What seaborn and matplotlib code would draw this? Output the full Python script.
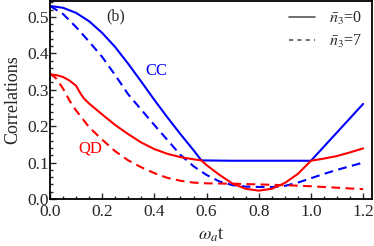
"""Correlations vs omega_a t, panel (b)"""

import matplotlib
matplotlib.use("Agg")
import matplotlib.pyplot as plt
from matplotlib.lines import Line2D
from matplotlib.ticker import MultipleLocator
import seaborn as sns
import pandas as pd

# classical correlation, n3 = 0 (solid) and n3 = 7 (dashed)
t_cc0 = [0, 0.05, 0.1, 0.15, 0.2, 0.25, 0.3, 0.35, 0.4, 0.45, 0.5, 0.55, 0.58,
         0.7, 0.85, 1.0, 1.05, 1.1, 1.15, 1.2]
cc0 = [0.530, 0.525, 0.511, 0.488, 0.456, 0.417, 0.371, 0.322, 0.272, 0.224,
       0.178, 0.134, 0.106, 0.105, 0.105, 0.105, 0.144, 0.183, 0.222, 0.261]

t_cc7 = [0, 0.05, 0.1, 0.15, 0.2, 0.25, 0.3, 0.35, 0.4, 0.45, 0.5, 0.55, 0.6,
         0.65, 0.7, 0.75, 0.8, 0.85, 0.9, 0.95, 1.0, 1.05, 1.1, 1.15, 1.2]
cc7 = [0.530, 0.508, 0.472, 0.432, 0.390, 0.340, 0.287, 0.245, 0.203, 0.162,
       0.121, 0.090, 0.066, 0.048, 0.038, 0.034, 0.033, 0.033, 0.036, 0.045,
       0.057, 0.069, 0.080, 0.090, 0.100]

# quantum discord, n3 = 0 (solid) and n3 = 7 (dashed)
t_qd0 = [0, 0.025, 0.05, 0.075, 0.1, 0.115, 0.13, 0.15, 0.2, 0.25, 0.3, 0.35,
         0.4, 0.45, 0.5, 0.55, 0.58, 0.6, 0.65, 0.7, 0.75, 0.8, 0.85, 0.9,
         0.95, 1.0, 1.05, 1.1, 1.15, 1.2]
qd0 = [0.342, 0.340, 0.335, 0.325, 0.311, 0.292, 0.276, 0.262, 0.232, 0.203,
       0.178, 0.155, 0.137, 0.124, 0.115, 0.109, 0.106, 0.093, 0.066, 0.042,
       0.028, 0.023, 0.028, 0.044, 0.069, 0.105, 0.111, 0.118, 0.128, 0.139]

t_qd7 = [0, 0.025, 0.05, 0.075, 0.1, 0.15, 0.2, 0.25, 0.3, 0.35, 0.4, 0.45,
         0.5, 0.55, 0.6, 0.7, 0.8, 0.9, 1.0, 1.1, 1.2]
qd7 = [0.345, 0.330, 0.303, 0.270, 0.243, 0.197, 0.163, 0.131, 0.106, 0.087,
       0.071, 0.058, 0.050, 0.045, 0.043, 0.042, 0.040, 0.038, 0.035, 0.031,
       0.027]

x_ticks = [0.0, 0.2, 0.4, 0.6, 0.8, 1.0, 1.2]
y_ticks = [0.0, 0.1, 0.2, 0.3, 0.4, 0.5]

BLUE = "#0000ff"
RED = "#ff0000"

sns.set_style("ticks")
plt.rcParams["font.family"] = ["Liberation Serif", "DejaVu Serif"]
plt.rcParams["mathtext.fontset"] = "stix"

fig = plt.figure(figsize=(3.74, 2.46), dpi=100)
ax = fig.add_axes([50 / 374, 47 / 246, 322 / 374, 198.5 / 246])

curves = [
    (t_cc0, cc0, BLUE, False),
    (t_cc7, cc7, BLUE, True),
    (t_qd0, qd0, RED, False),
    (t_qd7, qd7, RED, True),
]
for t, v, color, dashed in curves:
    df = pd.DataFrame({"t": t, "v": v})
    sns.lineplot(data=df, x="t", y="v", color=color, linewidth=1.5, ax=ax,
                 legend=False)
    if dashed:
        ax.lines[-1].set_dashes((4.2, 2.6))

ax.set_xlim(0, 1.234)
ax.set_ylim(0, 0.545)
ax.set_xticks(x_ticks)
ax.set_yticks(y_ticks)
ax.set_xticklabels([f"{x:.1f}" for x in x_ticks])
ax.set_yticklabels([f"{y:.1f}" for y in y_ticks])
ax.xaxis.set_minor_locator(MultipleLocator(0.05))
ax.yaxis.set_minor_locator(MultipleLocator(0.02))
ax.tick_params(which="both", direction="in", labelsize=12.5, width=1.0,
               top=False, right=False)
ax.tick_params(which="major", length=4)
ax.tick_params(which="minor", length=2.3)
ax.tick_params(axis="x", pad=3.5)
ax.tick_params(axis="y", pad=1)
for s in ax.spines.values():
    s.set_visible(True)
    s.set_linewidth(1.3)
    s.set_color("black")

ax.set_xlabel(r"$\omega_a$t", fontsize=13, labelpad=5)
ax.set_ylabel("Correlations", fontsize=13, labelpad=4)

ax.text(0.253, 0.50, "(b)", fontsize=11.5, ha="center", va="center")
ax.text(0.406, 0.352, "CC", fontsize=12, color=BLUE, ha="center", va="center")
ax.text(0.153, 0.140, "QD", fontsize=12, color=RED, ha="center", va="center")

handles = [
    Line2D([], [], color="#555555", linewidth=1.2),
    Line2D([], [], color="#555555", linewidth=1.2, dashes=(2.5, 2.5)),
]
ax.legend(handles, [r"$\bar{n}_3$=0", r"$\bar{n}_3$=7"], loc="upper right",
          frameon=False, fontsize=11.5, handlelength=1.6, handletextpad=0.9,
          labelspacing=0.35, borderaxespad=0.2)

fig.savefig("out.png", dpi=100)
plt.close(fig)
